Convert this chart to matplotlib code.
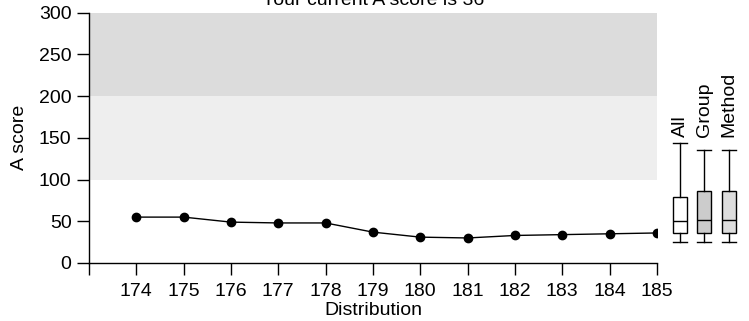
import matplotlib
matplotlib.use("Agg")
import matplotlib.pyplot as plt

plt.rcParams['font.family'] = ['Liberation Sans', 'DejaVu Sans']

# data
dists = [174, 175, 176, 177, 178, 179, 180, 181, 182, 183, 184, 185]
scores = [55, 55, 49, 48, 48, 37, 31, 30, 33, 34, 35, 36]
current_score = 36

# boxplot summaries: whisker low, q1, median, q3, whisker high
box_names = ["All", "Group", "Method"]
box_stats = [
    [25, 36, 50, 79, 144],
    [25, 36, 51, 86, 135],
    [25, 36, 51, 86, 135],
]
box_colors = ["white", "#CCCCCC", "#DDDDDD"]

bands = [(100, 200, "#EEEEEE"), (200, 300, "#DCDCDC")]

fs = 14

fig = plt.figure(figsize=(7.49, 3.21), dpi=100)
ax = fig.add_axes([0.1188, 0.1807, 0.7582, 0.7797])

xmin, xmax = dists[0] - 1, dists[-1]
for lo, hi, c in bands:
    ax.fill_between([xmin, xmax], lo, hi, color=c, lw=0, zorder=0)

ax.plot(dists, scores, "-o", color="black", lw=1, markersize=6, zorder=3)

ax.set_xlim(xmin, xmax)
ax.set_ylim(0, 300)
ax.set_xticks([xmin] + dists)
ax.set_xticklabels([""] + [str(d) for d in dists])
ax.set_yticks([0, 50, 100, 150, 200, 250, 300])
ax.tick_params(direction="out", length=8.5, width=1, labelsize=fs, colors="black")
ax.tick_params(axis="x", pad=6)
ax.tick_params(axis="y", pad=4)
ax.spines['right'].set_visible(False)
ax.spines['top'].set_visible(False)
ax.spines['left'].set_linewidth(1)
ax.spines['bottom'].set_linewidth(1)
ax.set_xlabel("Distribution", fontsize=fs, labelpad=1.5)
ax.set_ylabel("A score", fontsize=fs, labelpad=8)

fig.text(0.498, 0.985, "Your current A score is %d" % current_score,
         ha="center", va="baseline", fontsize=fs)

# boxplots on the right, same y scale
bax = fig.add_axes([0.8915, 0.1807, 0.0981, 0.7797])
bax.set_ylim(0, 300)
bax.set_xlim(0.5, 3.5)
bax.axis("off")
stats = []
for name, s in zip(box_names, box_stats):
    stats.append(dict(label=name, whislo=s[0], q1=s[1], med=s[2], q3=s[3], whishi=s[4], fliers=[]))
bp = bax.bxp(stats, positions=[1, 2, 3], widths=0.57, capwidths=0.57, patch_artist=True,
             boxprops=dict(linewidth=1, edgecolor="black"),
             medianprops=dict(color="black", linewidth=1),
             whiskerprops=dict(color="black", linewidth=1),
             capprops=dict(color="black", linewidth=1))
for patch, c in zip(bp["boxes"], box_colors):
    patch.set_facecolor(c)
for i, name in enumerate(box_names):
    bax.text(i + 1, 151, name, rotation=90, ha="center", va="bottom", fontsize=fs)

fig.savefig("out.png", dpi=100)
